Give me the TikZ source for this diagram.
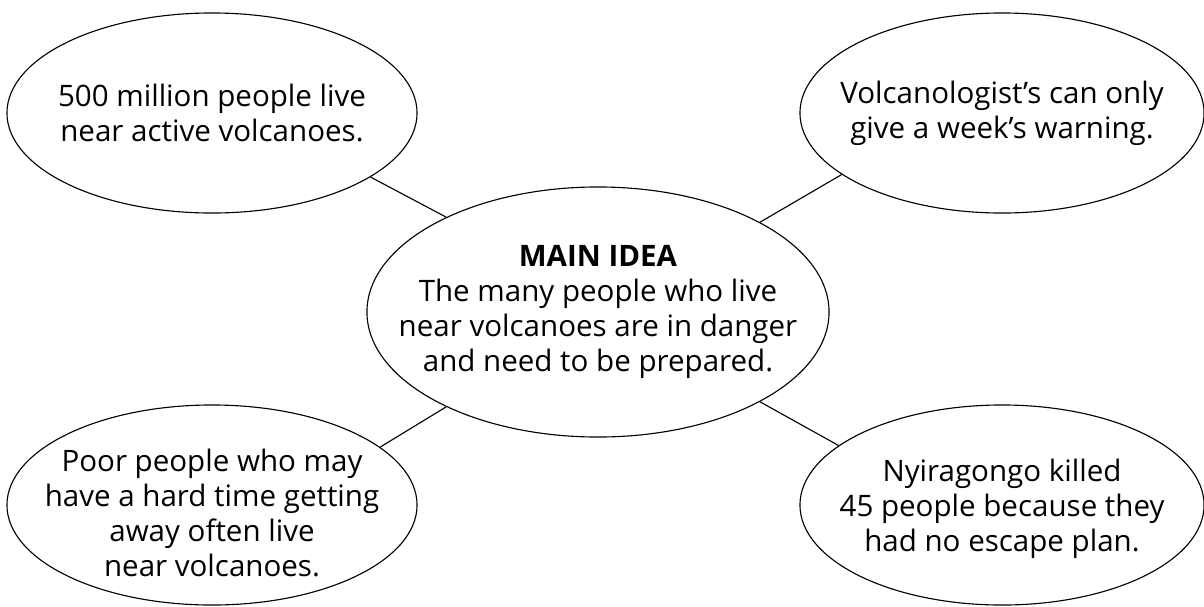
\documentclass[tikz,border=0pt]{standalone}
\usepackage{fontspec}
\setmainfont{Open Sans}
\usetikzlibrary{shapes.geometric}
\tikzset{
	bubble/.style={draw,ellipse,line width=0.8pt,inner sep=0pt,
		minimum width=10.25cm,minimum height=5cm},
	mainbubble/.style={bubble,minimum width=11.55cm,minimum height=6.25cm},
	words/.style={align=center,inner sep=0pt,font=\fontsize{21}{24.9}\selectfont}
}
\begin{document}
\begin{tikzpicture}[x=0.025cm,y=-0.025cm]
		\useasboundingbox (0,0) rectangle (1204,606);
		% bubbles
		\node[mainbubble] (main) at (598,312) {};
		\node[bubble] (people) at (212,113) {};
		\node[bubble,minimum width=10.1cm] (warning) at (1002,113) {};
		\node[bubble] (poor) at (212,505) {};
		\node[bubble,minimum width=10.1cm] (nyiragongo) at (1002,505) {};
		% texts
		\node[words] (maintext) at (main) {\textbf{MAIN IDEA}\\The many people who live\\near volcanoes are in danger\\and need to be prepared.};
		\node[words] (peopletext) at (people) {500 million people live\\near active volcanoes.};
		\node[words] (warningtext) at (warning) {Volcanologist's can only\\give a week's warning.};
		\node[words] (poortext) at ([yshift=-0.2cm]poor) {Poor people who may\\have a hard time getting\\away often live\\near volcanoes.};
		\node[words] (nyiragongotext) at ([yshift=-0.1cm]nyiragongo) {Nyiragongo killed\\45 people because they\\had no escape plan.};
		% spokes
		\draw[line width=0.8pt] (people.-22) -- (main.148);
		\draw[line width=0.8pt] (warning.-159) -- (main.29);
		\draw[line width=0.8pt] (poor.19) -- (main.212);
		\draw[line width=0.8pt] (nyiragongo.160) -- (main.-29);
	\end{tikzpicture}
\end{document}
